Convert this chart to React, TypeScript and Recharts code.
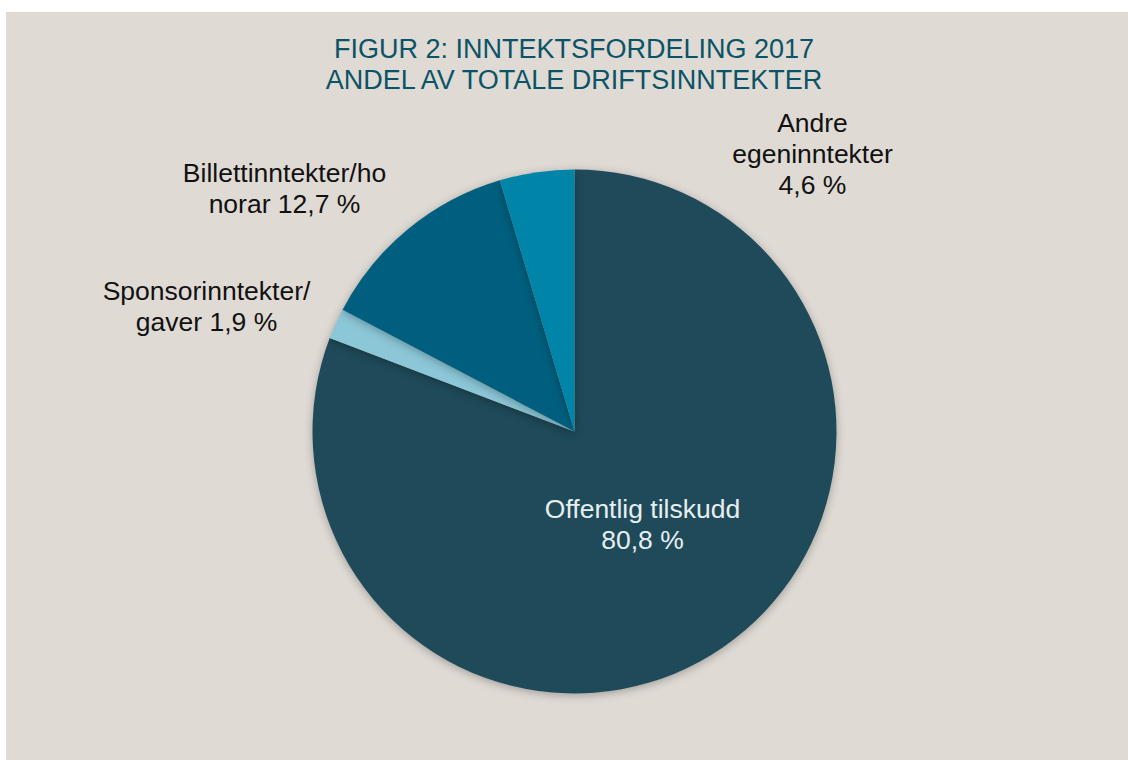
import { PieChart, Pie, Cell } from 'recharts';

const categories = [
  'Offentlig tilskudd',
  'Sponsorinntekter/gaver',
  'Billettinntekter/honorar',
  'Andre egeninntekter',
];
const shares = [80.8, 1.9, 12.7, 4.6];
const labelLines = [
  ['Offentlig tilskudd', '80,8 %'],
  ['Sponsorinntekter/', 'gaver 1,9 %'],
  ['Billettinntekter/ho', 'norar 12,7 %'],
  ['Andre', 'egeninntekter', '4,6 %'],
];
const colors = ['#1F4A59', '#8CC7D7', '#005F7E', '#0084A8'];
const textColors = ['#E8EEF0', '#111111', '#111111', '#111111'];

// label anchor relative to pie centre (Excel moved these by hand)
const labelOffsets = [
  [68, 86],
  [-368, -132],
  [-290, -250],
  [238, -300],
];

const FONT = '"Liberation Sans", Arial, sans-serif';
const LINE_H = 31;

const data = categories.map((name, i) => ({ name, value: shares[i] }));

function renderLabel(props: any) {
  const { cx, cy, index } = props;
  const lines = labelLines[index];
  const [dx, dy] = labelOffsets[index];
  return (
    <text
      x={cx + dx}
      y={cy + dy}
      textAnchor="middle"
      fill={textColors[index]}
      fontSize={26.5}
      fontFamily={FONT}
    >
      {lines.map((l, j) => (
        <tspan key={j} x={cx + dx} dy={j === 0 ? 0 : LINE_H}>
          {l}
        </tspan>
      ))}
    </text>
  );
}

export default function App() {
  return (
    <div
      style={{
        position: 'fixed',
        left: 6,
        top: 12,
        width: 1122,
        height: 748,
        background: '#DFDAD4',
        fontFamily: FONT,
      }}
    >
      <style>{`.pie-shadow .recharts-pie-sector { filter: drop-shadow(0 2px 4px rgba(0,0,0,0.28)); }`}</style>
      <div
        style={{
          position: 'absolute',
          top: 22,
          left: 0,
          width: 1136,
          textAlign: 'center',
          color: '#0B5366',
          fontSize: 27,
          lineHeight: '31px',
        }}
      >
        FIGUR 2: INNTEKTSFORDELING 2017
        <br />
        ANDEL AV TOTALE DRIFTSINNTEKTER
      </div>
      <div style={{ position: 'absolute', left: 0, top: 0 }}>
        <PieChart
          width={1122}
          height={748}
          margin={{ top: 0, right: 0, bottom: 0, left: 0 }}
        >
          <Pie
            className="pie-shadow"
            data={data}
            dataKey="value"
            nameKey="name"
            cx={568.5}
            cy={419.5}
            outerRadius={262}
            startAngle={90}
            endAngle={-270}
            stroke="none"
            labelLine={false}
            label={renderLabel}
            isAnimationActive={false}
          >
            {data.map((_, i) => (
              <Cell key={i} fill={colors[i]} />
            ))}
          </Pie>
        </PieChart>
      </div>
    </div>
  );
}
